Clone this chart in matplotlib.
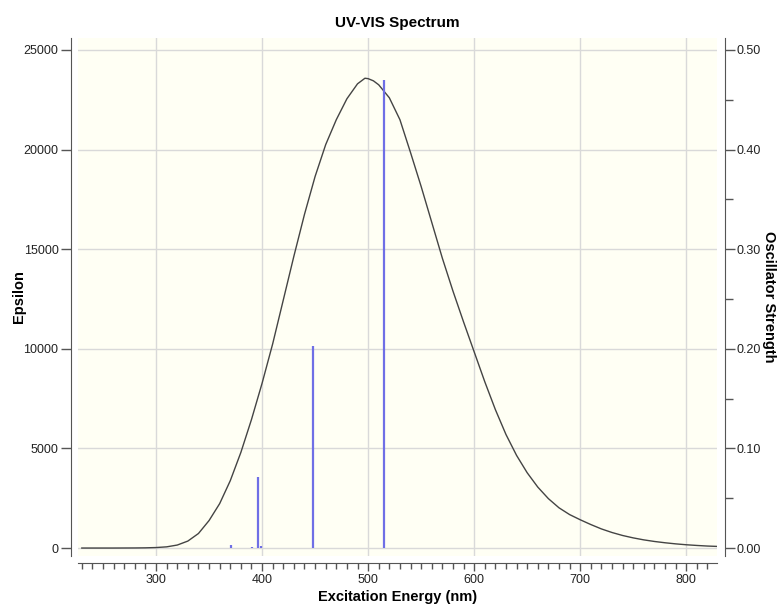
import numpy as np
import matplotlib.pyplot as plt
from matplotlib.ticker import MultipleLocator, FormatStrFormatter

# broadened spectrum (nm, epsilon)
wl = [230, 240, 250, 260, 270, 280, 290, 300, 310, 320, 330, 340, 350, 360,
      370, 380, 390, 400, 410, 420, 430, 440, 450, 460, 470, 480, 490, 497,
      500, 505, 510, 520, 530, 540, 550, 560, 570, 580, 590, 600, 610, 620, 630,
      640, 650, 660, 670, 680, 690, 700, 710, 720, 730, 740, 750, 760, 770,
      780, 790, 800, 810, 820, 830]
eps = [0, 0, 0, 0, 2, 4, 10, 25, 60, 150, 350, 730, 1380, 2230,
       3380, 4800, 6450, 8270, 10250, 12450, 14650, 16750, 18650, 20250, 21500, 22550, 23300, 23580,
       23560, 23450, 23250, 22600, 21500, 19850, 18150, 16350, 14550, 12900, 11350, 9850, 8350, 6950, 5700,
       4650, 3780, 3060, 2480, 2020, 1680, 1420, 1180, 960, 780, 630, 510, 410, 330,
       265, 210, 165, 130, 100, 80]

# transitions (nm, oscillator strength)
stick_wl = [370.8, 390.3, 396.5, 398.8, 447.8, 514.8]
stick_f = [0.0035, 0.001, 0.0718, 0.002, 0.2032, 0.470]

plt.rcParams['font.family'] = ['Liberation Sans', 'DejaVu Sans']

fig = plt.figure(figsize=(7.8, 6.07), dpi=100)
ax1 = fig.add_axes([0.1, 0.084, 0.8192, 0.8534])
ax1.set_facecolor('#fffff4')

ylo, yhi = -400, 25600
ax1.set_xlim(226.4, 829)
ax1.set_ylim(ylo, yhi)
ax1.plot(wl, eps, color='#444444', lw=1.0, zorder=3)

ax1.xaxis.set_major_locator(MultipleLocator(100))
ax1.xaxis.set_minor_locator(MultipleLocator(10))
ax1.yaxis.set_major_locator(MultipleLocator(5000))
ax1.grid(True, which='major', color='#d9d9d9', lw=1.0)
ax1.set_axisbelow(True)

for s in ['top', 'right']:
    ax1.spines[s].set_visible(False)
ax1.spines['left'].set_position(('outward', 5))
ax1.spines['bottom'].set_position(('outward', 5))
for s in ['left', 'bottom']:
    ax1.spines[s].set_color('#555555')

ax1.tick_params(axis='x', which='major', length=6, width=1, color='#555555',
                labelsize=9, pad=2, labelcolor='#222222')
ax1.tick_params(axis='x', which='minor', length=4, width=1, color='#555555')
ax1.tick_params(axis='y', which='major', length=7, width=1, color='#555555',
                labelsize=9, pad=2, labelcolor='#222222')

ax1.set_xlabel('Excitation Energy (nm)', fontsize=10.5, fontweight='bold', labelpad=3)
ax1.set_ylabel('Epsilon', fontsize=10.5, fontweight='bold', labelpad=-2)
ax1.set_title('UV-VIS Spectrum', fontsize=11, fontweight='bold', pad=8)

ax2 = ax1.twinx()
ax2.patch.set_visible(False)
ax2.set_ylim(ylo * 2e-5, yhi * 2e-5)
ax2.vlines(stick_wl, 0, stick_f, color='#6f6fe6', lw=1.6)
ax2.yaxis.set_major_locator(MultipleLocator(0.1))
ax2.yaxis.set_minor_locator(MultipleLocator(0.05))
ax2.yaxis.set_major_formatter(FormatStrFormatter('%.2f'))
for s in ['top', 'left', 'bottom']:
    ax2.spines[s].set_visible(False)
ax2.spines['right'].set_position(('outward', 6))
ax2.spines['right'].set_color('#555555')
ax2.tick_params(axis='y', which='major', length=7, width=1, color='#555555',
                labelsize=9, pad=1, labelcolor='#222222')
ax2.tick_params(axis='y', which='minor', length=6, width=1, color='#555555')
ax2.set_ylabel('Oscillator Strength', fontsize=10.5, fontweight='bold',
               rotation=-90, labelpad=11)

fig.savefig('out.png', dpi=100)
